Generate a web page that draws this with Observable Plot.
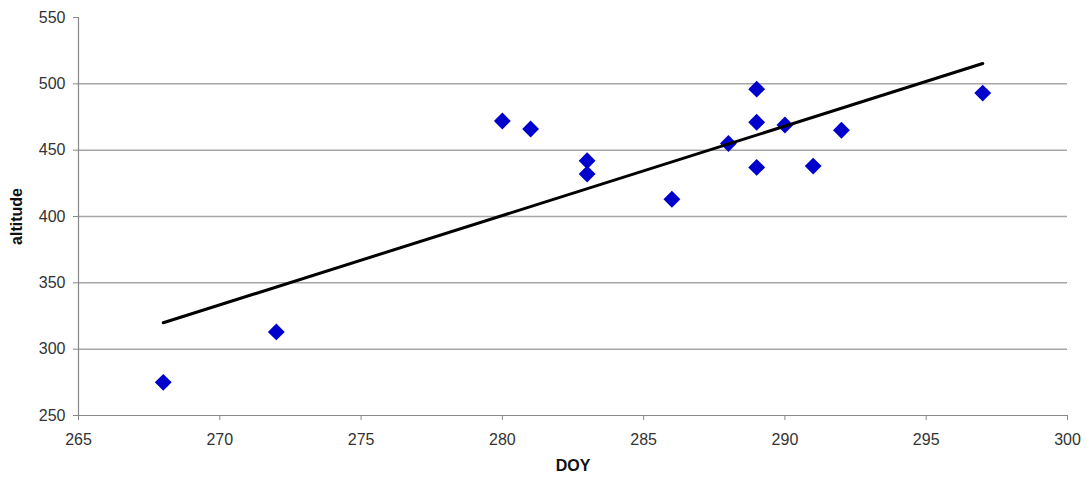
<!DOCTYPE html>
<html>
<head>
<meta charset="utf-8">
<script src="https://cdn.jsdelivr.net/npm/d3@7"></script>
<script src="https://cdn.jsdelivr.net/npm/@observablehq/plot@0.6"></script>
<style>
  html, body { margin: 0; padding: 0; background: #fff; }
  #chart svg { display: block; }
</style>
</head>
<body>
<div id="chart"></div>
<script>
const doy = [268, 272, 280, 281, 283, 283, 286, 288, 289, 289, 289, 290, 291, 292, 297];
const altitude = [275, 313, 472, 466, 442, 432, 413, 455, 496, 471, 437, 469, 438, 465, 493];
const xTicks = [265, 270, 275, 280, 285, 290, 295, 300];
const yTicks = [250, 300, 350, 400, 450, 500, 550];
const gridTicks = [300, 350, 400, 450, 500];

const data = doy.map((d, i) => ({doy: d, altitude: altitude[i]}));

const font = "Liberation Sans, Arial, sans-serif";

const chart = Plot.plot({
  width: 1087,
  height: 477,
  marginLeft: 78,
  marginRight: 20,
  marginTop: 17,
  marginBottom: 62,
  style: {fontFamily: font, fontSize: "16px", color: "#333", background: "#fff"},
  x: {domain: [265, 300]},
  y: {domain: [250, 550]},
  marks: [
    Plot.gridY(gridTicks, {stroke: "#a6a6a6", strokeOpacity: 1, strokeWidth: 1.5}),
    Plot.ruleX([265], {stroke: "#888", strokeWidth: 1.2}),
    Plot.ruleY([250], {stroke: "#888", strokeWidth: 1.2}),
    Plot.axisX(xTicks, {tickSize: 5, tickPadding: 13, stroke: "#888", fill: "#333", fontSize: 16, label: null}),
    Plot.axisY(yTicks, {tickSize: 5, tickPadding: 8, stroke: "#888", fill: "#333", fontSize: 16, label: null}),
    Plot.axisX({ticks: [], tickSize: 0, label: "DOY", labelAnchor: "center", labelArrow: "none", labelOffset: 55, fontWeight: "bold", fontSize: 16, fill: "#111"}),
    Plot.axisY({ticks: [], tickSize: 0, label: "altitude", labelAnchor: "center", labelArrow: "none", labelOffset: 68, fontWeight: "bold", fontSize: 16, fill: "#111"}),
    Plot.dot(data, {x: "doy", y: "altitude", symbol: "diamond2", r: 7.6, fill: "#0000cc", stroke: "none"}),
    Plot.linearRegressionY(data, {x: "doy", y: "altitude", ci: 0, stroke: "black", strokeWidth: 3})
  ]
});
document.getElementById("chart").appendChild(chart);
</script>
</body>
</html>
